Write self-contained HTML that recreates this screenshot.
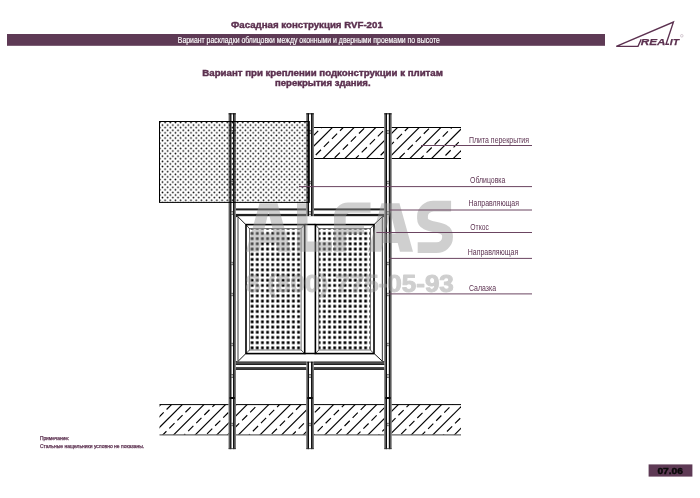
<!DOCTYPE html>
<html><head><meta charset="utf-8"><title>RVF-201</title>
<style>html,body{margin:0;padding:0;background:#ffffff;}body{width:700px;height:498px;overflow:hidden;font-family:"Liberation Sans",sans-serif;}svg{display:block;will-change:transform;}text{font-family:"Liberation Sans",sans-serif;}</style>
</head><body>
<svg width="700" height="498" viewBox="0 0 700 498">
<defs>
<pattern id="dots" patternUnits="userSpaceOnUse" x="161.21" y="123.80" width="5.18" height="5.18"><circle cx="1.295" cy="1.295" r="0.85" fill="#000"/><circle cx="3.885" cy="3.885" r="0.85" fill="#000"/></pattern>
<pattern id="grid" patternUnits="userSpaceOnUse" x="249.52" y="230.85" width="5.16" height="5.2"><rect x="1.205" y="1.225" width="2.75" height="2.75" fill="#000"/></pattern>
<clipPath id="slabTop"><rect x="313.8" y="127.5" width="147.2" height="31"/></clipPath>
<clipPath id="slabBot"><rect x="159.5" y="404.6" width="301.5" height="30.3"/></clipPath>
</defs>
<rect width="700" height="498" fill="#ffffff"/>
<text x="231" y="27.6" font-size="9.1" font-weight="bold" fill="#5c3150" stroke="#5c3150" stroke-width="0.4" textLength="151.8" lengthAdjust="spacingAndGlyphs">Фасадная конструкция RVF-201</text>
<rect x="7" y="34" width="598" height="11.8" fill="#5e3a55"/>
<text x="177.8" y="43.3" font-size="8.5" fill="#fff" stroke="#fff" stroke-width="0.15" textLength="262" lengthAdjust="spacingAndGlyphs">Вариант раскладки облицовки между оконными и дверными проемами по высоте</text>
<text x="202.3" y="75.8" font-size="8.4" font-weight="bold" fill="#5c3150" stroke="#5c3150" stroke-width="0.4" textLength="240.6" lengthAdjust="spacingAndGlyphs">Вариант при креплении подконструкции к плитам</text>
<text x="275" y="85.6" font-size="8.4" font-weight="bold" fill="#5c3150" stroke="#5c3150" stroke-width="0.4" textLength="95.6" lengthAdjust="spacingAndGlyphs">перекрытия здания.</text>
<g fill="none" stroke="#5c3150" stroke-width="1.4" stroke-linejoin="miter">
<path d="M641.2 39.2 L638 46.4 L616.3 46.4 L673.4 22.1 L666 44.2 L669 44.2"/>
</g>
<text x="640.8" y="44.5" font-size="9.2" font-weight="bold" font-style="italic" fill="#5c3150" stroke="#5c3150" stroke-width="0.25" textLength="24.6" lengthAdjust="spacingAndGlyphs">REA</text>
<text x="669.8" y="44.5" font-size="9.2" font-weight="bold" font-style="italic" fill="#5c3150" stroke="#5c3150" stroke-width="0.25" textLength="9.2" lengthAdjust="spacingAndGlyphs">IT</text>
<circle cx="681.8" cy="35.8" r="1.3" fill="none" stroke="#5c3150" stroke-width="0.35" stroke-opacity="0.7"/>
<g clip-path="url(#slabTop)" stroke="#000" stroke-width="1.15" fill="none">
<path d="M256.00 160.50L291.00 125.50"/>
<path d="M261.77 165.58L301.85 125.50" stroke-dasharray="7.35 4.07"/>
<path d="M277.70 160.50L312.70 125.50"/>
<path d="M280.70 168.35L323.55 125.50" stroke-dasharray="7.35 4.07"/>
<path d="M299.40 160.50L334.40 125.50"/>
<path d="M307.70 163.05L345.25 125.50" stroke-dasharray="7.35 4.07"/>
<path d="M321.10 160.50L356.10 125.50"/>
<path d="M326.62 165.82L366.95 125.50" stroke-dasharray="7.35 4.07"/>
<path d="M342.80 160.50L377.80 125.50"/>
<path d="M353.62 160.52L388.65 125.50" stroke-dasharray="7.35 4.07"/>
<path d="M364.50 160.50L399.50 125.50"/>
<path d="M372.55 163.30L410.35 125.50" stroke-dasharray="7.35 4.07"/>
<path d="M386.20 160.50L421.20 125.50"/>
<path d="M391.47 166.07L432.05 125.50" stroke-dasharray="7.35 4.07"/>
<path d="M407.90 160.50L442.90 125.50"/>
<path d="M418.48 160.78L453.75 125.50" stroke-dasharray="7.35 4.07"/>
<path d="M429.60 160.50L464.60 125.50"/>
<path d="M437.40 163.55L475.45 125.50" stroke-dasharray="7.35 4.07"/>
<path d="M451.30 160.50L486.30 125.50"/>
<path d="M456.32 166.32L497.15 125.50" stroke-dasharray="7.35 4.07"/>
<path d="M473.00 160.50L508.00 125.50"/>
<path d="M483.33 161.03L518.85 125.50" stroke-dasharray="7.35 4.07"/>
<path d="M494.70 160.50L529.70 125.50"/>
<path d="M502.25 163.80L540.55 125.50" stroke-dasharray="7.35 4.07"/>
</g>
<path d="M313.8 127.5H461" stroke="#000" stroke-width="1"/>
<path d="M313.8 158.5H461" stroke="#000" stroke-width="1"/>
<g clip-path="url(#slabBot)" stroke="#000" stroke-width="1.15" fill="none">
<path d="M85.20 436.90L119.50 402.60"/>
<path d="M88.45 444.45L130.30 402.60" stroke-dasharray="7.35 4.07"/>
<path d="M106.80 436.90L141.10 402.60"/>
<path d="M115.40 439.10L151.90 402.60" stroke-dasharray="7.35 4.07"/>
<path d="M128.40 436.90L162.70 402.60"/>
<path d="M134.27 441.82L173.50 402.60" stroke-dasharray="7.35 4.07"/>
<path d="M150.00 436.90L184.30 402.60"/>
<path d="M153.15 444.55L195.10 402.60" stroke-dasharray="7.35 4.07"/>
<path d="M171.60 436.90L205.90 402.60"/>
<path d="M180.10 439.20L216.70 402.60" stroke-dasharray="7.35 4.07"/>
<path d="M193.20 436.90L227.50 402.60"/>
<path d="M198.98 441.92L238.30 402.60" stroke-dasharray="7.35 4.07"/>
<path d="M214.80 436.90L249.10 402.60"/>
<path d="M217.85 444.65L259.90 402.60" stroke-dasharray="7.35 4.07"/>
<path d="M236.40 436.90L270.70 402.60"/>
<path d="M244.80 439.30L281.50 402.60" stroke-dasharray="7.35 4.07"/>
<path d="M258.00 436.90L292.30 402.60"/>
<path d="M263.67 442.02L303.10 402.60" stroke-dasharray="7.35 4.07"/>
<path d="M279.60 436.90L313.90 402.60"/>
<path d="M282.55 444.75L324.70 402.60" stroke-dasharray="7.35 4.07"/>
<path d="M301.20 436.90L335.50 402.60"/>
<path d="M309.50 439.40L346.30 402.60" stroke-dasharray="7.35 4.07"/>
<path d="M322.80 436.90L357.10 402.60"/>
<path d="M328.38 442.12L367.90 402.60" stroke-dasharray="7.35 4.07"/>
<path d="M344.40 436.90L378.70 402.60"/>
<path d="M347.25 444.85L389.50 402.60" stroke-dasharray="7.35 4.07"/>
<path d="M366.00 436.90L400.30 402.60"/>
<path d="M374.20 439.50L411.10 402.60" stroke-dasharray="7.35 4.07"/>
<path d="M387.60 436.90L421.90 402.60"/>
<path d="M393.07 442.22L432.70 402.60" stroke-dasharray="7.35 4.07"/>
<path d="M409.20 436.90L443.50 402.60"/>
<path d="M411.95 444.95L454.30 402.60" stroke-dasharray="7.35 4.07"/>
<path d="M430.80 436.90L465.10 402.60"/>
<path d="M438.90 439.60L475.90 402.60" stroke-dasharray="7.35 4.07"/>
<path d="M452.40 436.90L486.70 402.60"/>
<path d="M457.77 442.32L497.50 402.60" stroke-dasharray="7.35 4.07"/>
<path d="M474.00 436.90L508.30 402.60"/>
<path d="M484.72 436.97L519.10 402.60" stroke-dasharray="7.35 4.07"/>
<path d="M495.60 436.90L529.90 402.60"/>
<path d="M503.60 439.70L540.70 402.60" stroke-dasharray="7.35 4.07"/>
</g>
<path d="M159.5 404.6H461" stroke="#000" stroke-width="1"/>
<path d="M159.5 434.9H461" stroke="#666" stroke-width="1.4"/>
<rect x="228.60" y="113.30" width="7.20" height="335.80" fill="#fff"/>
<rect x="228.60" y="113.30" width="2.7" height="335.80" fill="#5a5a5a"/>
<rect x="230.30" y="113.30" width="1.0" height="335.80" fill="#0c0c0c"/>
<rect x="233.10" y="113.30" width="2.7" height="335.80" fill="#5a5a5a"/>
<rect x="233.10" y="113.30" width="1.0" height="335.80" fill="#0c0c0c"/>
<rect x="228.60" y="113.30" width="7.20" height="1" fill="#111"/>
<rect x="228.60" y="448.30" width="7.20" height="0.8" fill="#333"/>
<rect x="306.30" y="113.30" width="7.50" height="103.30" fill="#fff"/>
<rect x="306.30" y="113.30" width="2.7" height="103.30" fill="#5a5a5a"/>
<rect x="308.00" y="113.30" width="1.0" height="103.30" fill="#0c0c0c"/>
<rect x="311.10" y="113.30" width="2.7" height="103.30" fill="#5a5a5a"/>
<rect x="311.10" y="113.30" width="1.0" height="103.30" fill="#0c0c0c"/>
<rect x="306.30" y="113.30" width="7.50" height="1" fill="#111"/>
<rect x="306.30" y="215.80" width="7.50" height="0.8" fill="#333"/>
<rect x="306.30" y="361.50" width="7.50" height="87.60" fill="#fff"/>
<rect x="306.30" y="361.50" width="2.7" height="87.60" fill="#5a5a5a"/>
<rect x="308.00" y="361.50" width="1.0" height="87.60" fill="#0c0c0c"/>
<rect x="311.10" y="361.50" width="2.7" height="87.60" fill="#5a5a5a"/>
<rect x="311.10" y="361.50" width="1.0" height="87.60" fill="#0c0c0c"/>
<rect x="306.30" y="361.50" width="7.50" height="1" fill="#111"/>
<rect x="306.30" y="448.30" width="7.50" height="0.8" fill="#333"/>
<rect x="384.30" y="113.30" width="7.30" height="335.80" fill="#fff"/>
<rect x="384.30" y="113.30" width="2.7" height="335.80" fill="#5a5a5a"/>
<rect x="386.00" y="113.30" width="1.0" height="335.80" fill="#0c0c0c"/>
<rect x="388.90" y="113.30" width="2.7" height="335.80" fill="#5a5a5a"/>
<rect x="388.90" y="113.30" width="1.0" height="335.80" fill="#0c0c0c"/>
<rect x="384.30" y="113.30" width="7.30" height="1" fill="#111"/>
<rect x="384.30" y="448.30" width="7.30" height="0.8" fill="#333"/>
<rect x="231.30" y="130.40" width="1.80" height="0.7" fill="#222"/>
<rect x="231.30" y="132.90" width="1.80" height="0.7" fill="#222"/>
<rect x="231.80" y="131.10" width="0.80" height="1.8" fill="#999"/>
<rect x="231.30" y="180.90" width="1.80" height="0.7" fill="#222"/>
<rect x="231.30" y="183.40" width="1.80" height="0.7" fill="#222"/>
<rect x="231.80" y="181.60" width="0.80" height="1.8" fill="#999"/>
<rect x="231.30" y="211.40" width="1.80" height="0.7" fill="#222"/>
<rect x="231.30" y="213.90" width="1.80" height="0.7" fill="#222"/>
<rect x="231.80" y="212.10" width="0.80" height="1.8" fill="#999"/>
<rect x="231.30" y="261.90" width="1.80" height="0.7" fill="#222"/>
<rect x="231.30" y="264.40" width="1.80" height="0.7" fill="#222"/>
<rect x="231.80" y="262.60" width="0.80" height="1.8" fill="#999"/>
<rect x="231.30" y="292.90" width="1.80" height="0.7" fill="#222"/>
<rect x="231.30" y="295.40" width="1.80" height="0.7" fill="#222"/>
<rect x="231.80" y="293.60" width="0.80" height="1.8" fill="#999"/>
<rect x="231.30" y="342.90" width="1.80" height="0.7" fill="#222"/>
<rect x="231.30" y="345.40" width="1.80" height="0.7" fill="#222"/>
<rect x="231.80" y="343.60" width="0.80" height="1.8" fill="#999"/>
<rect x="231.30" y="374.40" width="1.80" height="0.7" fill="#222"/>
<rect x="231.30" y="376.90" width="1.80" height="0.7" fill="#222"/>
<rect x="231.80" y="375.10" width="0.80" height="1.8" fill="#999"/>
<rect x="231.30" y="422.90" width="1.80" height="0.7" fill="#222"/>
<rect x="231.30" y="425.40" width="1.80" height="0.7" fill="#222"/>
<rect x="231.80" y="423.60" width="0.80" height="1.8" fill="#999"/>
<rect x="229.60" y="397" width="5.20" height="2" fill="#0a0a0a"/>
<rect x="309.00" y="130.40" width="2.10" height="0.7" fill="#222"/>
<rect x="309.00" y="132.90" width="2.10" height="0.7" fill="#222"/>
<rect x="309.50" y="131.10" width="1.10" height="1.8" fill="#999"/>
<rect x="309.00" y="180.90" width="2.10" height="0.7" fill="#222"/>
<rect x="309.00" y="183.40" width="2.10" height="0.7" fill="#222"/>
<rect x="309.50" y="181.60" width="1.10" height="1.8" fill="#999"/>
<rect x="309.00" y="211.40" width="2.10" height="0.7" fill="#222"/>
<rect x="309.00" y="213.90" width="2.10" height="0.7" fill="#222"/>
<rect x="309.50" y="212.10" width="1.10" height="1.8" fill="#999"/>
<rect x="309.00" y="374.40" width="2.10" height="0.7" fill="#222"/>
<rect x="309.00" y="376.90" width="2.10" height="0.7" fill="#222"/>
<rect x="309.50" y="375.10" width="1.10" height="1.8" fill="#999"/>
<rect x="309.00" y="422.90" width="2.10" height="0.7" fill="#222"/>
<rect x="309.00" y="425.40" width="2.10" height="0.7" fill="#222"/>
<rect x="309.50" y="423.60" width="1.10" height="1.8" fill="#999"/>
<rect x="307.30" y="397" width="5.50" height="2" fill="#0a0a0a"/>
<rect x="387.00" y="130.40" width="1.90" height="0.7" fill="#222"/>
<rect x="387.00" y="132.90" width="1.90" height="0.7" fill="#222"/>
<rect x="387.50" y="131.10" width="0.90" height="1.8" fill="#999"/>
<rect x="387.00" y="180.90" width="1.90" height="0.7" fill="#222"/>
<rect x="387.00" y="183.40" width="1.90" height="0.7" fill="#222"/>
<rect x="387.50" y="181.60" width="0.90" height="1.8" fill="#999"/>
<rect x="387.00" y="211.40" width="1.90" height="0.7" fill="#222"/>
<rect x="387.00" y="213.90" width="1.90" height="0.7" fill="#222"/>
<rect x="387.50" y="212.10" width="0.90" height="1.8" fill="#999"/>
<rect x="387.00" y="261.90" width="1.90" height="0.7" fill="#222"/>
<rect x="387.00" y="264.40" width="1.90" height="0.7" fill="#222"/>
<rect x="387.50" y="262.60" width="0.90" height="1.8" fill="#999"/>
<rect x="387.00" y="292.90" width="1.90" height="0.7" fill="#222"/>
<rect x="387.00" y="295.40" width="1.90" height="0.7" fill="#222"/>
<rect x="387.50" y="293.60" width="0.90" height="1.8" fill="#999"/>
<rect x="387.00" y="342.90" width="1.90" height="0.7" fill="#222"/>
<rect x="387.00" y="345.40" width="1.90" height="0.7" fill="#222"/>
<rect x="387.50" y="343.60" width="0.90" height="1.8" fill="#999"/>
<rect x="387.00" y="374.40" width="1.90" height="0.7" fill="#222"/>
<rect x="387.00" y="376.90" width="1.90" height="0.7" fill="#222"/>
<rect x="387.50" y="375.10" width="0.90" height="1.8" fill="#999"/>
<rect x="387.00" y="422.90" width="1.90" height="0.7" fill="#222"/>
<rect x="387.00" y="425.40" width="1.90" height="0.7" fill="#222"/>
<rect x="387.50" y="423.60" width="0.90" height="1.8" fill="#999"/>
<rect x="385.30" y="397" width="5.30" height="2" fill="#0a0a0a"/>
<rect x="159.5" y="121.5" width="149.8" height="80.9" fill="url(#dots)"/>
<rect x="159.5" y="121.5" width="149.8" height="80.9" fill="none" stroke="#000" stroke-width="1"/>
<rect x="235.8" y="208.5" width="70.5" height="8.6" fill="#fff"/>
<rect x="235.8" y="208.4" width="70.5" height="2" fill="#1e1e1e"/>
<rect x="235.8" y="213.9" width="70.5" height="3.2" fill="#1e1e1e"/>
<rect x="313.8" y="208.5" width="70.5" height="8.6" fill="#fff"/>
<rect x="313.8" y="208.4" width="70.5" height="2" fill="#1e1e1e"/>
<rect x="313.8" y="213.9" width="70.5" height="3.2" fill="#1e1e1e"/>
<rect x="235.8" y="361.3" width="70.5" height="8.4" fill="#fff"/>
<rect x="235.8" y="361.3" width="70.5" height="3.7" fill="#4a4a4a"/>
<rect x="235.8" y="361.3" width="70.5" height="0.6" fill="#111"/>
<rect x="235.8" y="364.3" width="70.5" height="0.7" fill="#111"/>
<rect x="235.8" y="367" width="70.5" height="2.7" fill="#4a4a4a"/>
<rect x="235.8" y="368.8" width="70.5" height="0.9" fill="#111"/>
<rect x="313.8" y="361.3" width="70.5" height="8.4" fill="#fff"/>
<rect x="313.8" y="361.3" width="70.5" height="3.7" fill="#4a4a4a"/>
<rect x="313.8" y="361.3" width="70.5" height="0.6" fill="#111"/>
<rect x="313.8" y="364.3" width="70.5" height="0.7" fill="#111"/>
<rect x="313.8" y="367" width="70.5" height="2.7" fill="#4a4a4a"/>
<rect x="313.8" y="368.8" width="70.5" height="0.9" fill="#111"/>
<g fill="none" stroke="#000">
<rect x="237.8" y="216.2" width="144.7" height="145.2" fill="#fff" stroke="none"/>
<path d="M238 216.2V361.4" stroke="#777" stroke-width="1.4"/>
<path d="M382.4 216.2V361.4" stroke="#555" stroke-width="1.2"/>
<path d="M237.8 216.6L245.6 224.4M382.5 216.6L374.2 224.4M238.2 361.2L245.6 353.8M382.3 361.2L374.4 353.8" stroke-width="0.9"/>
<path d="M304.7 224.6H315.4M304.7 353.6H315.4" stroke-width="1.5"/>
<rect x="246.0" y="224.6" width="58.69999999999999" height="129" stroke-width="1.6"/>
<rect x="249.4" y="228.6" width="51.69999999999996" height="121.4" fill="url(#grid)" stroke="none"/>
<rect x="249.4" y="228.6" width="51.69999999999996" height="121.4" stroke="#555" stroke-width="0.8"/>
<path d="M246.0 224.6L249.4 228.6M304.7 224.6L301.09999999999997 228.6M246.0 353.6L249.4 350M304.7 353.6L301.09999999999997 350" stroke-width="0.7"/>
<rect x="315.4" y="224.6" width="58.60000000000002" height="129" stroke-width="1.6"/>
<rect x="318.79999999999995" y="228.6" width="51.60000000000002" height="121.4" fill="url(#grid)" stroke="none"/>
<rect x="318.79999999999995" y="228.6" width="51.60000000000002" height="121.4" stroke="#555" stroke-width="0.8"/>
<path d="M315.4 224.6L318.79999999999995 228.6M374.0 224.6L370.4 228.6M315.4 353.6L318.79999999999995 350M374.0 353.6L370.4 350" stroke-width="0.7"/>
</g>
<g fill="#9a9a9a" opacity="0.47" font-weight="bold" stroke="#9a9a9a" stroke-width="0" stroke-linejoin="round">
<path fill-rule="evenodd" d="M246.0 251.8L259.5 203.2H277.5L291.0 251.8H277.95L275.75 243H261.25L259.05 251.8Z M268.5 212L273.7 233.5H263.3Z"/>
<path d="M297 203.2H307.5V241.5H332V251.8H297Z"/>
<path d="M334 251.8V216.4A14 14 0 0 1 348 202.4H370.5V212.8H350.5A4.8 4.8 0 0 0 345.7 217.6V225H364V234H345.7V251.8Z"/>
<path fill-rule="evenodd" d="M368.0 251.8L381.5 203.2H399.5L413.0 251.8H399.95L397.75 243H383.25L381.05 251.8Z M390.5 212L395.7 233.5H385.3Z"/>
<path d="M451.1 206.1H433.5A11 10 0 0 0 422.5 216.1V218.5C422.5 230.5 447.5 223.5 447.5 235.5V237.6A11 10 0 0 1 436.5 247.6H417.7" fill="none" stroke-width="10.8"/>
<text x="245.8" y="291.7" font-size="23" textLength="208" lengthAdjust="spacingAndGlyphs" stroke-width="1">8 (800) 775-05-93</text>
</g>
<path d="M421 145.5H532" stroke="#6b4561" stroke-width="1"/>
<text x="469" y="143" font-size="8.3" fill="#5c3150" textLength="60" lengthAdjust="spacingAndGlyphs">Плита перекрытия</text>
<path d="M299 186.6H532" stroke="#6b4561" stroke-width="1"/>
<text x="470" y="183" font-size="8.3" fill="#5c3150" textLength="35.4" lengthAdjust="spacingAndGlyphs">Облицовка</text>
<path d="M389 210H532" stroke="#6b4561" stroke-width="1"/>
<text x="468.6" y="206.4" font-size="8.3" fill="#5c3150" textLength="50.4" lengthAdjust="spacingAndGlyphs">Направляющая</text>
<path d="M376.4 232.5H532" stroke="#6b4561" stroke-width="1"/>
<text x="470.3" y="230.4" font-size="8.3" fill="#5c3150" textLength="18.5" lengthAdjust="spacingAndGlyphs">Откос</text>
<path d="M389.3 258.4H532" stroke="#6b4561" stroke-width="1"/>
<text x="467.7" y="255.4" font-size="8.3" fill="#5c3150" textLength="50.6" lengthAdjust="spacingAndGlyphs">Направляющая</text>
<path d="M389 293.9H532" stroke="#6b4561" stroke-width="1"/>
<text x="469" y="290.6" font-size="8.3" fill="#5c3150" textLength="27" lengthAdjust="spacingAndGlyphs">Салазка</text>
<text x="39.9" y="440.4" font-size="5.3" fill="#5c3150" stroke="#5c3150" stroke-width="0.25" textLength="29.5" lengthAdjust="spacingAndGlyphs">Примечание:</text>
<text x="39.9" y="448" font-size="5.3" fill="#5c3150" stroke="#5c3150" stroke-width="0.25" textLength="104.3" lengthAdjust="spacingAndGlyphs">Стальные нащельники условно не показаны.</text>
<rect x="648.6" y="464.4" width="43.8" height="12.2" fill="#5e3a55"/>
<text x="657.4" y="474" font-size="9.3" font-weight="bold" fill="#0a0a0a" stroke="#0a0a0a" stroke-width="0.45" textLength="25.6" lengthAdjust="spacingAndGlyphs">07.06</text>
</svg></body></html>
